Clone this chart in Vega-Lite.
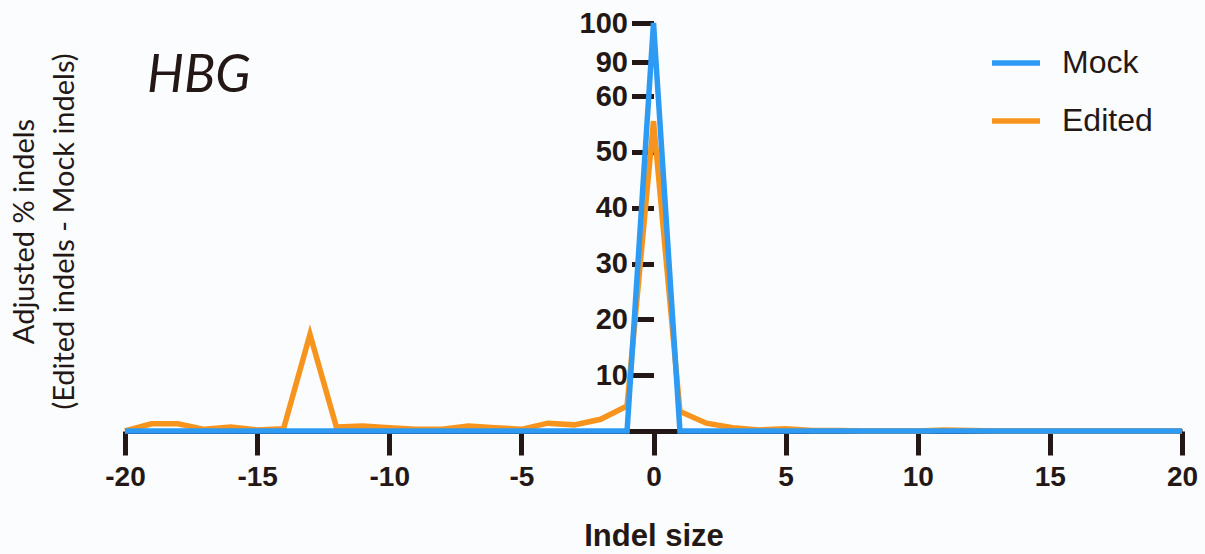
{
  "$schema": "https://vega.github.io/schema/vega-lite/v6.json",
  "width": 1057,
  "height": 408,
  "autosize": {"type": "none"},
  "padding": {"left": 125, "top": 23, "right": 23, "bottom": 123},
  "background": "#fbfcfd",
  "title": {
    "text": "HBG",
    "anchor": "start",
    "frame": "group",
    "orient": "top",
    "font": "Lato",
    "fontStyle": "italic",
    "fontWeight": "normal",
    "fontSize": 52,
    "color": "#231815",
    "baseline": "alphabetic",
    "offset": 0,
    "dx": 22,
    "dy": 135
  },
  "config": {
    "view": {"stroke": null},
    "legend": {
      "orient": "none",
      "legendX": 864,
      "legendY": 13,
      "symbolType": "stroke",
      "symbolSize": 2304,
      "symbolStrokeWidth": 5.5,
      "labelFont": "Liberation Sans",
      "labelFontSize": 32,
      "labelColor": "#231815",
      "labelOffset": 19,
      "rowPadding": 15,
      "padding": 0,
      "title": null
    }
  },
  "data": {
    "values": [
      {"x": -20, "group": "Mock", "v": 0}, {"x": -19, "group": "Mock", "v": 0}, {"x": -18, "group": "Mock", "v": 0},
      {"x": -17, "group": "Mock", "v": 0}, {"x": -16, "group": "Mock", "v": 0}, {"x": -15, "group": "Mock", "v": 0},
      {"x": -14, "group": "Mock", "v": 0}, {"x": -13, "group": "Mock", "v": 0}, {"x": -12, "group": "Mock", "v": 0},
      {"x": -11, "group": "Mock", "v": 0}, {"x": -10, "group": "Mock", "v": 0}, {"x": -9, "group": "Mock", "v": 0},
      {"x": -8, "group": "Mock", "v": 0}, {"x": -7, "group": "Mock", "v": 0}, {"x": -6, "group": "Mock", "v": 0},
      {"x": -5, "group": "Mock", "v": 0}, {"x": -4, "group": "Mock", "v": 0}, {"x": -3, "group": "Mock", "v": 0},
      {"x": -2, "group": "Mock", "v": 0}, {"x": -1, "group": "Mock", "v": 0}, {"x": 0, "group": "Mock", "v": 100},
      {"x": 1, "group": "Mock", "v": 0}, {"x": 2, "group": "Mock", "v": 0}, {"x": 3, "group": "Mock", "v": 0},
      {"x": 4, "group": "Mock", "v": 0}, {"x": 5, "group": "Mock", "v": 0}, {"x": 6, "group": "Mock", "v": 0},
      {"x": 7, "group": "Mock", "v": 0}, {"x": 8, "group": "Mock", "v": 0}, {"x": 9, "group": "Mock", "v": 0},
      {"x": 10, "group": "Mock", "v": 0}, {"x": 11, "group": "Mock", "v": 0}, {"x": 12, "group": "Mock", "v": 0},
      {"x": 13, "group": "Mock", "v": 0}, {"x": 14, "group": "Mock", "v": 0}, {"x": 15, "group": "Mock", "v": 0},
      {"x": 16, "group": "Mock", "v": 0}, {"x": 17, "group": "Mock", "v": 0}, {"x": 18, "group": "Mock", "v": 0},
      {"x": 19, "group": "Mock", "v": 0}, {"x": 20, "group": "Mock", "v": 0},
      {"x": -20, "group": "Edited", "v": 0}, {"x": -19, "group": "Edited", "v": 1.3}, {"x": -18, "group": "Edited", "v": 1.3},
      {"x": -17, "group": "Edited", "v": 0.3}, {"x": -16, "group": "Edited", "v": 0.7}, {"x": -15, "group": "Edited", "v": 0.2},
      {"x": -14, "group": "Edited", "v": 0.4}, {"x": -13, "group": "Edited", "v": 17.3}, {"x": -12, "group": "Edited", "v": 0.7},
      {"x": -11, "group": "Edited", "v": 0.9}, {"x": -10, "group": "Edited", "v": 0.6}, {"x": -9, "group": "Edited", "v": 0.3},
      {"x": -8, "group": "Edited", "v": 0.3}, {"x": -7, "group": "Edited", "v": 0.9}, {"x": -6, "group": "Edited", "v": 0.6},
      {"x": -5, "group": "Edited", "v": 0.3}, {"x": -4, "group": "Edited", "v": 1.4}, {"x": -3, "group": "Edited", "v": 1.1},
      {"x": -2, "group": "Edited", "v": 2.1}, {"x": -1, "group": "Edited", "v": 4.5}, {"x": 0, "group": "Edited", "v": 55.5},
      {"x": 1, "group": "Edited", "v": 3.5}, {"x": 2, "group": "Edited", "v": 1.4}, {"x": 3, "group": "Edited", "v": 0.6},
      {"x": 4, "group": "Edited", "v": 0.2}, {"x": 5, "group": "Edited", "v": 0.4}, {"x": 6, "group": "Edited", "v": 0.1},
      {"x": 7, "group": "Edited", "v": 0.1}, {"x": 8, "group": "Edited", "v": 0}, {"x": 9, "group": "Edited", "v": 0},
      {"x": 10, "group": "Edited", "v": 0}, {"x": 11, "group": "Edited", "v": 0.2}, {"x": 12, "group": "Edited", "v": 0.1},
      {"x": 13, "group": "Edited", "v": 0}, {"x": 14, "group": "Edited", "v": 0}, {"x": 15, "group": "Edited", "v": 0},
      {"x": 16, "group": "Edited", "v": 0}, {"x": 17, "group": "Edited", "v": 0}, {"x": 18, "group": "Edited", "v": 0},
      {"x": 19, "group": "Edited", "v": 0}, {"x": 20, "group": "Edited", "v": 0}
    ]
  },
  "encoding": {
    "x": {
      "field": "x",
      "type": "quantitative",
      "scale": {"domain": [-20, 20], "nice": false, "zero": false},
      "axis": {
        "values": [-20, -15, -10, -5, 0, 5, 10, 15, 20],
        "labelExpr": "datum.value < 0 ? '-' + abs(datum.value) : '' + datum.value",
        "grid": false,
        "domain": true,
        "domainWidth": 5,
        "domainColor": "#231815",
        "ticks": true,
        "tickSize": 24,
        "tickWidth": 5,
        "tickColor": "#231815",
        "labelFont": "Liberation Sans",
        "labelFontWeight": "bold",
        "labelFontSize": 28,
        "labelColor": "#231815",
        "labelPadding": 8,
        "labelFlush": false,
        "labelOverlap": false,
        "title": "Indel size",
        "titleFont": "Liberation Sans",
        "titleFontWeight": "bold",
        "titleFontSize": 31,
        "titleColor": "#231815",
        "titleBaseline": "alphabetic",
        "titleY": 114
      }
    },
    "y": {
      "field": "v",
      "type": "quantitative",
      "scale": {"domain": [0, 60, 90, 100], "range": [408, 73, 39, 0], "nice": false, "zero": false},
      "axis": {
        "orient": "left",
        "offset": -528.5,
        "values": [10, 20, 30, 40, 50, 60, 90, 100],
        "grid": false,
        "domain": false,
        "ticks": true,
        "tickSize": 22,
        "tickWidth": 5,
        "tickColor": "#231815",
        "labelFont": "Liberation Sans",
        "labelFontWeight": "bold",
        "labelFontSize": 29,
        "labelColor": "#231815",
        "labelPadding": 4,
        "labelOverlap": false,
        "labelFlush": false,
        "title": ["Adjusted % indels", "(Edited indels - Mock indels)"],
        "titleFont": "Lato",
        "titleFontWeight": "normal",
        "titleFontSize": 29,
        "titleColor": "#231815",
        "titleAngle": -90,
        "titleAlign": "center",
        "titleBaseline": "middle",
        "titleLineHeight": 40,
        "titleX": -629,
        "titleY": 208
      }
    },
    "color": {
      "field": "group",
      "type": "nominal",
      "scale": {"domain": ["Mock", "Edited"], "range": ["#2d9bf3", "#f7941d"]}
    }
  },
  "layer": [
    {
      "data": {"values": [{"a": 0, "b": 60}, {"a": 90, "b": 100}]},
      "mark": {"type": "rule", "strokeWidth": 5, "color": "#231815"},
      "encoding": {
        "x": {"datum": 0, "type": "quantitative"},
        "y": {"field": "a", "type": "quantitative"},
        "y2": {"field": "b"},
        "color": {"value": "#231815"}
      }
    },
    {
      "transform": [{"filter": "datum.group === 'Edited'"}],
      "mark": {"type": "line", "strokeWidth": 5.5, "strokeJoin": "miter"}
    },
    {
      "transform": [{"filter": "datum.group === 'Mock'"}],
      "mark": {"type": "line", "strokeWidth": 5.5, "strokeJoin": "miter"}
    }
  ]
}
